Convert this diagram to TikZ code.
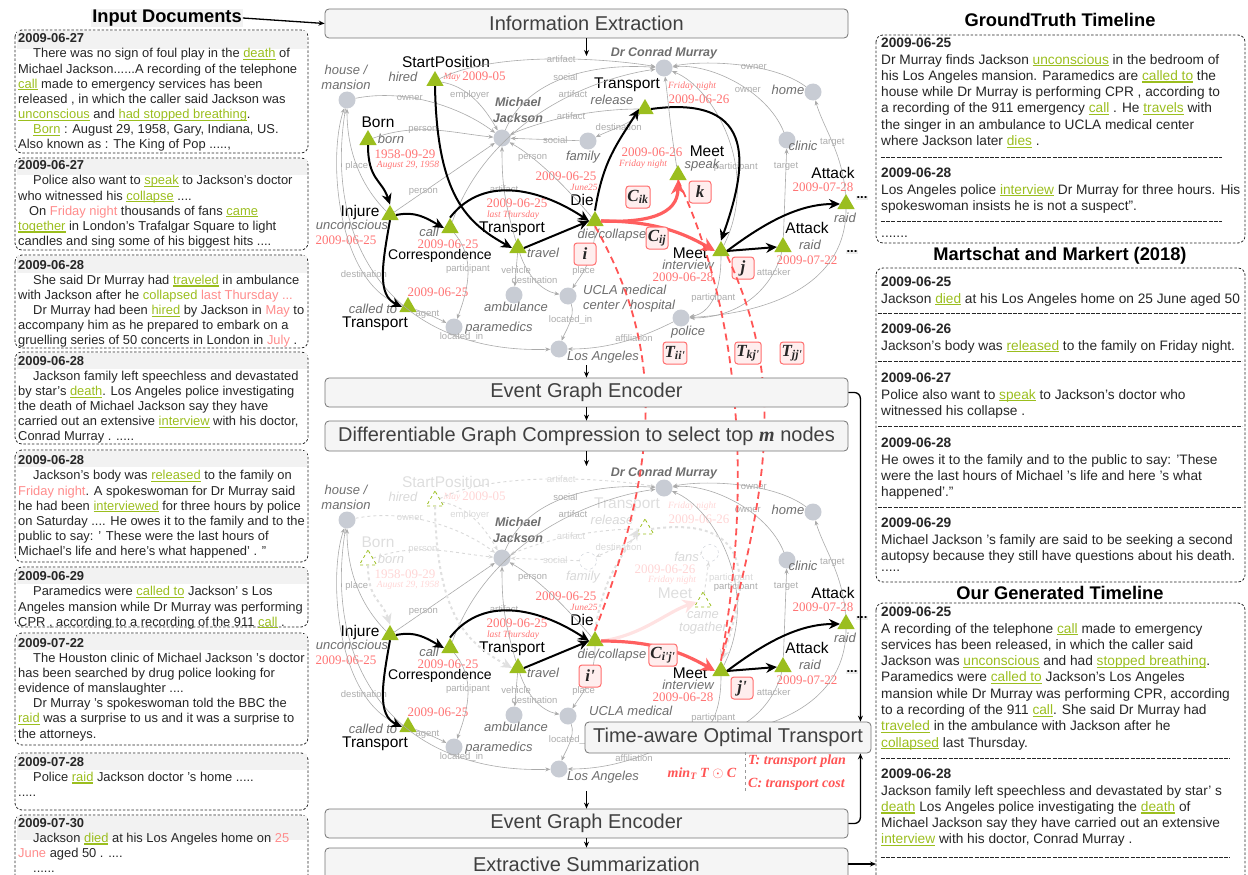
\documentclass[tikz,border=0pt]{standalone}
\usepackage{fontspec}
\setmainfont{Liberation Sans}
\newfontfamily\tms{Liberation Serif}
\usetikzlibrary{shapes.geometric,arrows.meta}
\definecolor{evgreen}{RGB}{155,190,30}
\definecolor{entgray}{RGB}{200,204,212}
\definecolor{tred}{RGB}{255,115,115}
\definecolor{tpink}{RGB}{255,140,140}
\definecolor{labgray}{RGB}{110,110,110}
\definecolor{edgegray}{RGB}{170,170,170}
\definecolor{elgray}{RGB}{172,172,172}
\definecolor{carrred}{RGB}{255,95,95}
\definecolor{redline}{RGB}{255,85,85}
\definecolor{tbfill}{RGB}{255,238,238}
\definecolor{tbdraw}{RGB}{255,110,110}
\newsavebox\evbox
\newif\iftopg
\newcommand\evw[1]{\textcolor{evgreen}{\sbox\evbox{#1}\rlap{\rule[-2.3pt]{\wd\evbox}{1.2pt}}\usebox\evbox}}
\newcommand\tmw[1]{\textcolor{tpink}{#1}}
\newcommand\dind{\hspace*{15pt}}
\tikzset{
 ent/.style={circle, fill=entgray, minimum size=17pt, inner sep=0pt},
 ev/.style={regular polygon, regular polygon sides=3, fill=evgreen, minimum size=20pt, inner sep=0pt},
 ename/.style={font=\fontsize{15.5}{16}\selectfont, text=black, inner sep=0pt},
 elab/.style={font=\fontsize{13}{15}\selectfont\itshape, text=labgray, inner sep=0pt},
 blab/.style={font=\fontsize{12.5}{15.5}\selectfont\bfseries\itshape, text=labgray, inner sep=0pt, align=center},
 dt/.style={font=\tms\fontsize{13}{13}\selectfont, text=tred, inner sep=0pt},
 tdt/.style={font=\tms\itshape\fontsize{9.5}{10}\selectfont, text=tred, inner sep=0pt},
 eg/.style={draw=edgegray, line width=0.6pt, -{Stealth[length=5pt,width=4pt]}},
 el/.style={font=\fontsize{9.5}{10}\selectfont, text=elgray, inner sep=0.5pt},
 big/.style={draw=black, line width=2pt, -{Stealth[length=11pt,width=10pt]}},
 redarr/.style={draw=carrred, line width=3.2pt, -{Stealth[length=14pt,width=14pt]}},
 tb/.style={draw=tbdraw, fill=tbfill, line width=1pt, rounded corners=3pt, font=\tms\bfseries\itshape\fontsize{17}{17}\selectfont, text=black!85, minimum size=22pt, inner sep=1.5pt},
 tline/.style={draw=redline, line width=1.8pt, dash pattern=on 7pt off 4.5pt},
 dots/.style={fill=black!7, font=\fontsize{13}{13}\selectfont\bfseries, inner sep=1pt},
 pbox/.style={draw=black!55, fill=black!4, rounded corners=4pt, line width=0.8pt, font=\fontsize{20}{20}\selectfont, text=black!75, minimum width=523pt, minimum height=29pt, inner sep=0pt},
 sarr/.style={draw=black, line width=1.3pt, -{Stealth[length=6pt,width=5pt]}},
 ttl/.style={font=\fontsize{18.3}{19}\selectfont\bfseries, inner sep=1pt},
 doc/.style={anchor=north west, align=left, inner sep=0pt, font=\fontsize{12.9}{15.15}\selectfont, text=black!85},
 rdoc/.style={anchor=north west, align=left, inner sep=0pt, font=\fontsize{13.7}{16.3}\selectfont, text=black!85},
 docbox/.style={draw=black!85, dash pattern=on 2.5pt off 1.8pt, line width=0.8pt, rounded corners=7pt},
 datebar/.style={fill=black!5, draw=none},
 sepline/.style={draw=black!85, dash pattern=on 4pt off 1.2pt, line width=0.8pt},
 fml/.style={font=\tms\bfseries\itshape\fontsize{14}{14}\selectfont, text=redline, inner sep=0pt},
 topmode/.style={
  rment/.style={ent}, rmev/.style={ev}, rmename/.style={ename}, rmelab/.style={elab},
  rmdt/.style={dt}, rmtdt/.style={tdt}, rmeg/.style={eg}, rmel/.style={el}, rmbig/.style={big}},
 botmode/.style={
  rment/.style={ent, fill=none, draw=entgray, dashed},
  rmev/.style={ev, fill=none, draw=evgreen, dashed, line width=0.8pt},
  rmename/.style={ename, text=black!13}, rmelab/.style={elab, text=black!15},
  rmdt/.style={dt, text=tred!30}, rmtdt/.style={tdt, text=tred!30},
  rmeg/.style={eg, draw=black!15, dashed, line width=0.9pt}, rmel/.style={el, text=black!15},
  rmbig/.style={big, draw=black!12, dashed}},
}
\newcommand{\graphbase}{%
\node[ent] (hm) at (347,100) {};
\node[elab,align=center] (hmL) at (346,77) {house /\\mansion};
\node[ent] (mj) at (502,138) {};
\node[blab] (mjL) at (518,110) {Michael\\Jackson};
\node[rment] (fam) at (588,141) {};
\node[rmelab] (famL) at (583,157) {family};
\node[ent] (dcm) at (664,68) {};
\node[blab] (dcmL) at (664,53) {Dr Conrad Murray};
\node[ent] (home) at (813,92) {};
\node[elab] (homeL) at (788,90) {home};
\node[ent] (clin) at (787,140) {};
\node[elab] (clinL) at (803,146) {clinic};
\node[ent] (amb) at (514,295) {};
\node[elab] (ambL) at (516,307) {ambulance};
\node[ent] (ucla) at (568,296) {};
\iftopg
\node[elab,align=left,anchor=west] (uclaL) at (583,299) {UCLA medical\\center / hospital};
\else
\node[elab,anchor=west] (uclaL) at (589,291) {UCLA medical};
\fi
\node[ent] (para) at (454,327) {};
\node[elab] (paraL) at (499,328) {paramedics};
\node[ent] (la) at (559,349) {};
\node[elab] (laL) at (603,357) {Los Angeles};
\node[ent] (pol) at (681,318) {};
\iftopg \node[elab] (polL) at (688,332) {police}; \fi
\node[rmev] (sp) at (435,81) {};
\node[rmename] (spN) at (446,62) {StartPosition};
\node[rmelab] (spV) at (403,77) {hired};
\node[rmtdt] (spT) at (452,77) {May};
\node[rmdt] (spD) at (484,76) {2009-05};
\node[rmev] (born) at (368,140) {};
\node[rmename] (bornN) at (378,122) {Born};
\node[rmelab] (bornV) at (391,139) {born};
\node[rmdt] (bornD) at (405,154) {1958-09-29};
\node[rmtdt] (bornT) at (408,165) {August 29, 1958};
\node[ev] (inj) at (390,215) {};
\node[ename] (injN) at (360,212) {Injure};
\node[elab] (injV) at (352,225) {unconscious};
\node[dt] (injD) at (346,240) {2009-06-25};
\node[ev] (call) at (450,228) {};
\node[elab] (callV) at (429,231.5) {call};
\node[dt] (callD) at (448,244) {2009-06-25};
\node[ename, font=\fontsize{14}{14}\selectfont] (callN) at (440,256) {Correspondence};
\node[ev] (calt) at (408,307) {};
\node[elab] (caltV) at (373,309) {called to};
\node[ename] (caltN) at (375,324) {Transport};
\node[dt] (caltD) at (438,292) {2009-06-25};
\node[ev] (trv) at (518,248) {};
\node[ename] (trvN) at (512,229) {Transport};
\node[elab] (trvV) at (543,253) {travel};
\node[dt] (trvD) at (517,203) {2009-06-25};
\node[tdt] (trvT) at (513,215.5) {last Thursday};
\node[ev] (die) at (595,221) {};
\node[ename] (dieN) at (582,200) {Die};
\node[elab] (dieV) at (612,235) {die/collapse};
\node[dt] (dieD) at (566,176) {2009-06-25};
\node[tdt] (dieT) at (584,187) {June25};
\node[rmev] (rel) at (645,109) {};
\node[rmename] (relN) at (627,85) {Transport};
\node[rmelab] (relV) at (612,100) {release};
\node[rmtdt] (relT) at (692,86) {Friday night};
\node[rmdt] (relD) at (699,99) {2009-06-26};
\node[ev] (int) at (721,251) {};
\node[ename] (intN) at (690,253) {Meet};
\node[elab] (intV) at (688,265) {interview};
\node[dt] (intD) at (683,277) {2009-06-28};
\node[ev] (att1) at (783,247) {};
\node[ename] (att1N) at (807,228) {Attack};
\node[elab] (att1V) at (810,245) {raid};
\node[dt] (att1D) at (807,260) {2009-07-22};
\node[ev] (att2) at (846,204) {};
\node[ename] (att2N) at (833,173) {Attack};
\node[dt] (att2D) at (823,187) {2009-07-28};
\node[elab] (att2V) at (845,218) {raid};
\node[dots] (d1) at (862,198) {...};
\node[dots] (d2) at (852,252) {...};
% gray edges
\draw[rmeg] (hm) .. controls +(60,-12) and +(-40,-30) .. (mj) node[rmel,pos=.35] (e1) {owner};
\draw[rmeg] (sp) .. controls +(30,5) and +(-20,-35) .. (mj) node[rmel,pos=.45] (e2) {employer};
\draw[rmeg] (born) .. controls +(50,-18) and +(-50,-5) .. (mj) node[rmel,pos=.4] (e3) {person};
\draw[eg] (inj) -- (mj) node[el,pos=.29] (e4) {person};
\draw[eg] (trv) .. controls +(-15,-50) and +(0,40) .. (mj) node[el,pos=.5] (e5) {artifact};
\draw[eg] (die) .. controls +(-30,-35) and +(35,20) .. (mj) node[el,pos=.72] (e6) {person};
\draw[rmeg] (rel) .. controls +(-60,0) and +(35,-15) .. (mj) node[rmel,pos=.45] (e7) {artifact};
\draw[rmeg] (fam) -- (mj) node[rmel,pos=.35] (e8) {social};
\draw[rmeg] (rel) .. controls +(-15,15) and +(20,-10) .. (fam) node[rmel,pos=.5] (e9) {destination};
\draw[rmeg] (sp) .. controls +(60,-30) and +(-60,-10) .. (dcm) node[rmel,pos=.55] (e10) {artifact};
\draw[eg] (mj) .. controls +(25,-60) and +(-70,-5) .. (dcm) node[el,pos=.5] (e11) {social};
\draw[eg] (call) .. controls +(40,-110) and +(-70,10) .. (dcm) node[el,pos=.62] (e12) {artifact};
\draw[eg] (home) .. controls +(-40,-30) and +(40,-8) .. (dcm) node[el,pos=.4] (e13) {owner};
\draw[eg] (clin) .. controls +(-20,-50) and +(45,-5) .. (dcm) node[el,pos=.4] (e14) {owner};
\draw[eg] (int) .. controls +(40,-80) and +(50,20) .. (dcm) node[el,pos=.35] (e16) {participant};
\draw[eg] (att1) -- (clin) node[el,pos=.8] (e17) {target};
\draw[eg] (att2) .. controls +(-3,-50) and +(10,35) .. (home) node[el,pos=.5] (e18) {target};
\draw[eg] (att1) .. controls +(-10,40) and +(60,0) .. (pol) node[el,pos=.2] (e19) {attacker};
\draw[eg] (att2) .. controls +(0,80) and +(90,-5) .. (pol);
\draw[eg] (int) .. controls +(0,40) and +(30,-5) .. (pol) node[el,pos=.5] (e21) {participant};
\draw[eg] (pol) .. controls +(-40,20) and +(50,0) .. (la) node[el,pos=.4] (e22) {affiliation};
\draw[eg] (ucla) .. controls +(8,20) and +(5,-15) .. (la) node[el,pos=.4] (e23) {located\_in};
\draw[eg] (hm) .. controls +(-25,150) and +(-160,5) .. (la) node[el,pos=.78] (e24) {located\_in};
\draw[eg] (die) .. controls +(0,40) and +(12,-20) .. (ucla) node[el,pos=.6] (e25) {place};
\draw[eg] (trv) -- (amb) node[el,pos=.5] (e26) {vehicle};
\draw[eg] (trv) .. controls +(10,30) and +(-25,-5) .. (ucla) node[el,pos=.45] (e27) {destination};
\draw[eg] (call) .. controls +(25,30) and +(15,-40) .. (para) node[el,pos=.45] (e28) {participant};
\draw[eg] (calt) .. controls +(15,5) and +(-15,-8) .. (para) node[el,pos=.4] (e29) {agent};
\draw[eg] (inj) .. controls +(-30,-30) and +(0,50) .. (hm) node[el,pos=.5] (e30) {place};
\draw[eg] (calt) .. controls +(-70,-20) and +(-20,60) .. (hm) node[el,pos=.25] (e31) {destination};
% event arrows
\draw[rmbig] (born.south) .. controls +(0,35) and +(-8,-25) .. (inj.north);
\draw[rmbig] (sp.south) .. controls +(2,110) and +(-45,-25) .. (trv.west);
\draw[big] (inj.east) .. controls +(20,-4) and +(-18,-10) .. (call.west);
\draw[big] (inj.south) .. controls +(-8,45) and +(-25,-12) .. (calt.west);
\draw[big] (call.north) .. controls +(35,-45) and +(-45,-30) .. (die.west);
\draw[big] (trv.east) -- (die.west);
\draw[rmbig] (die.north) .. controls +(8,-50) and +(-22,35) .. (rel.west);
\draw[rmbig] (rel.east) .. controls +(110,-15) and +(25,-70) .. (int.north);
\draw[big] (int.east) -- (att1.west);
\draw[big] (int.east) .. controls +(40,-30) and +(-40,0) .. (att2.west);
}
\begin{document}
\begin{tikzpicture}[x=1pt,y=-1pt]
\useasboundingbox (0,0) rectangle (1248,875);
% ---------- left column ----------
\node[ttl, fill=black!5] (idT) at (167,18) {Input Documents};
\draw[docbox] (15,30) rectangle (308,153);
\draw[docbox] (15,158) rectangle (308,250);
\draw[docbox] (15,255) rectangle (308,348);
\draw[docbox] (15,352) rectangle (308,444);
\draw[docbox] (15,450) rectangle (308,562);
\draw[docbox] (15,567) rectangle (308,627);
\draw[docbox] (15,633) rectangle (308,745);
\draw[docbox] (15,753) rectangle (308,810);
\draw[docbox] (15,815) rectangle (308,895);
\fill[datebar] (17,31) rectangle (307,49);
\fill[datebar] (17,159) rectangle (307,175);
\fill[datebar] (17,256) rectangle (307,273);
\fill[datebar] (17,353) rectangle (307,369);
\fill[datebar] (17,451) rectangle (307,467);
\fill[datebar] (17,568) rectangle (307,584);
\fill[datebar] (17,634) rectangle (307,650);
\fill[datebar] (17,754) rectangle (307,770);
\fill[datebar] (17,816) rectangle (307,840);
\node[doc] (doc1) at (18,33.5) {\textbf{2009-06-27}\\
\dind There was no sign of foul play in the \evw{death} of\\
Michael Jackson......A recording of the telephone\\
\evw{call} made to emergency services has been\\
released , in which the caller said Jackson was\\
\evw{unconscious} and \evw{had stopped breathing}.\\
\dind\evw{Born} : August 29, 1958, Gary, Indiana, US.\\
Also known as : The King of Pop .....,};
\node[doc] (doc2) at (18,160.5) {\textbf{2009-06-27}\\
\dind Police also want to \evw{speak} to Jackson's doctor\\
who witnessed his \evw{collapse} ....\\
\hspace*{11pt}On \tmw{Friday night} thousands of fans \evw{came}\\
\evw{together} in London's Trafalgar Square to light\\
candles and sing some of his biggest hits ....};
\node[doc] (doc3) at (18,260) {\textbf{2009-06-28}\\
\dind She said Dr Murray had \evw{traveled} in ambulance\\
with Jackson after he \textcolor{evgreen}{collapsed} \tmw{last Thursday ...}\\
\dind Dr Murray had been \evw{hired} by Jackson in \tmw{May} to\\
accompany him as he prepared to embark on a\\
gruelling series of 50 concerts in London in \tmw{July} .};
\node[doc] (doc4) at (18,356) {\textbf{2009-06-28}\\
\dind Jackson family left speechless and devastated\\
by star's \evw{death}. Los Angeles police investigating\\
the death of Michael Jackson say they have\\
carried out an extensive \evw{interview} with his doctor,\\
Conrad Murray . .....};
\node[doc] (doc5) at (18,455.5) {\textbf{2009-06-28}\\
\dind Jackson's body was \evw{released} to the family on\\
\tmw{Friday night}. A spokeswoman for Dr Murray said\\
he had been \evw{interviewed} for three hours by police\\
on Saturday .... He owes it to the family and to the\\
public to say: ' These were the last hours of\\
Michael's life and here's what happened' . "};
\node[doc] (doc6) at (18,571.5) {\textbf{2009-06-29}\\
\dind Paramedics were \evw{called to} Jackson' s Los\\
Angeles mansion while Dr Murray was performing\\
CPR , according to a recording of the 911 \evw{call} .};
\node[doc] (doc7) at (18,638) {\textbf{2009-07-22}\\
\dind The Houston clinic of Michael Jackson 's doctor\\
has been searched by drug police looking for\\
evidence of manslaughter ....\\
\dind Dr Murray 's spokeswoman told the BBC the\\
\evw{raid} was a surprise to us and it was a surprise to\\
the attorneys.};
\node[doc] (doc8) at (18,757) {\textbf{2009-07-28}\\
\dind Police \evw{raid} Jackson doctor 's home .....\\
.....};
\node[doc] (doc9) at (18,818) {\textbf{2009-07-30}\\
\dind Jackson \evw{died} at his Los Angeles home on \tmw{25}\\
\tmw{June} aged 50 . ....\\
\dind ......};
% ---------- graphs ----------
\topgtrue
\begin{scope}[name prefix=t-, topmode]
\graphbase
\node[ev] (spk) at (678,175) {};
\node[ename] (spkN) at (707,151) {Meet};
\node[elab] (spkV) at (702,165) {speak};
\node[dt] (spkD) at (652,152) {2009-06-26};
\node[tdt] (spkT) at (643,164) {Friday night};
\draw[eg] (spk) .. controls +(-8,-50) and +(5,40) .. (dcm);
\draw[redarr] (die.east) .. controls +(45,2) and +(0,35) .. (spk.south);
\draw[redarr] (die.east) .. controls +(50,0) and +(-35,-20) .. (int.west);
\node[tb] (ti) at (585,254) {i};
\node[tb] (tcik) at (638,197) {C\textsubscript{ik}};
\node[tb] (tk) at (700,192) {k};
\node[tb] (tcij) at (657,238) {C\textsubscript{ij}};
\node[tb] (tj) at (743,268) {j};
\end{scope}
\topgfalse
\begin{scope}[shift={(0,420)}, name prefix=b-, botmode]
\graphbase
\node[rmev] (ct) at (703,182) {};
\node[rmename] (ctN) at (675,173) {Meet};
\node[rmelab] (ctV) at (703,195) {came};
\node[rmelab] (ctV2) at (703,208) {togather};
\node[rment] (fans) at (710,133) {};
\node[rmelab] (fansL) at (688,137) {fans'};
\node[rmdt] (ctD) at (665,149) {2009-06-26};
\node[rmtdt] (ctT) at (672,160) {Friday night};
\draw[rmeg] (ct) -- (fans);
\node[rmel] (ctE) at (731,158) {participant};
\draw[redarr, draw=carrred!18] (die.east) .. controls +(40,-5) and +(-30,10) .. (ct.west);
\draw[redarr] (die.east) .. controls +(50,0) and +(-35,-20) .. (int.west);
\node[tb] (tcij2) at (663,235) {C\textsubscript{i'j'}};
\node[tb] (ti2) at (590,256) {i'};
\node[tb] (tj2) at (742,268) {j'};
\end{scope}
% transport lines
\draw[tline] (t-die.south) .. controls (665,350) and (660,460) .. (b-die.north);
\draw[tline] (t-spk.south) .. controls (725,280) and (760,440) .. (b-int.north);
\draw[tline] (t-int.-40) .. controls (785,380) and (770,480) .. (b-int.north);
\node[tb] (tii) at (675,353) {T\textsubscript{ii'}};
\node[tb] (tkj) at (748,353) {T\textsubscript{kj'}};
\node[tb] (tjj) at (792,353) {T\textsubscript{jj'}};
% ---------- process boxes ----------
\node[pbox] (ie) at (586.5,23.5) {Information Extraction};
\node[pbox] (ege1) at (586.5,392.5) {Event Graph Encoder};
\node[pbox, minimum height=30pt] (dgc) at (586.5,436) {Differentiable Graph Compression to select top {\tms\bfseries\itshape m} nodes};
\node[pbox] (ege2) at (586.5,823.5) {Event Graph Encoder};
\node[pbox, minimum height=32pt] (es) at (586.5,864) {Extractive Summarization};
\node[pbox, minimum width=286pt, minimum height=31pt] (tot) at (728,737.5) {Time-aware Optimal Transport};
\coordinate (g1top) at (586.5,56);
\coordinate (g1bot) at (586.5,365);
\coordinate (g2top) at (586.5,466);
\coordinate (g2bot) at (586.5,791);
\coordinate (esout) at (876,864);
\draw[sarr] (idT.east) -- (ie.west);
\draw[sarr] (ie.south) -- (g1top);
\draw[sarr] (g1bot) -- (ege1.north);
\draw[sarr] (ege1.south) -- (dgc.north);
\draw[sarr] (dgc.south) -- (g2top);
\draw[sarr] (g2bot) -- (ege2.north);
\draw[sarr] (ege2.south) -- (es.north);
\draw[sarr, rounded corners=6pt] (ege1.east) -| ([xshift=-11pt]tot.north east);
\draw[sarr, rounded corners=6pt] (ege2.east) -| ([xshift=-11pt]tot.south east);
\draw[sarr] (es.east) -- (esout);
\node[fml] (fmin) at (702,774) {min\textsubscript{T} T $\odot$ C};
\node[fml, anchor=west] (fT) at (748,761) {T: transport plan};
\node[fml, anchor=west] (fC) at (748,784) {C: transport cost};
\draw[black!40, dashed, line width=0.6pt] (745,752) -- (745,793);
% ---------- right column ----------
\node[ttl] (gtT) at (1060,20) {GroundTruth Timeline};
\node[ttl] (mmT) at (1060,256) {Martschat and Markert (2018)};
\node[ttl] (ogT) at (1060,593) {Our Generated Timeline};
\draw[docbox] (876,35) rectangle (1245,243);
\draw[docbox] (876,268) rectangle (1245,582);
\draw[docbox] (876,603) rectangle (1245,895);
\node[rdoc] (gt1) at (881,38) {\textbf{2009-06-25}\\
Dr Murray finds Jackson \evw{unconscious} in the bedroom of\\
his Los Angeles mansion. Paramedics are \evw{called to} the\\
house while Dr Murray is performing CPR , according to\\
a recording of the 911 emergency \evw{call} . He \evw{travels} with\\
the singer in an ambulance to UCLA medical center\\
where Jackson later \evw{dies} .};
\draw[sepline] (881,157) -- (1222,157);
\node[rdoc] (gt2) at (881,168) {\textbf{2009-06-28}\\
Los Angeles police \evw{interview} Dr Murray for three hours. His\\
spokeswoman insists he is not a suspect".};
\draw[sepline] (881,221) -- (1222,221);
\node[rdoc, anchor=west] (gt3) at (881,237) {.......};
\node[rdoc] (mm1) at (881,277) {\textbf{2009-06-25}\\
Jackson \evw{died} at his Los Angeles home on 25 June aged 50};
\draw[sepline] (878,313) -- (1242,313);
\node[rdoc] (mm2) at (881,324) {\textbf{2009-06-26}\\
Jackson's body was \evw{released} to the family on Friday night.};
\draw[sepline] (878,361) -- (1242,361);
\node[rdoc] (mm3) at (881,373) {\textbf{2009-06-27}\\
Police also want to \evw{speak} to Jackson's doctor who\\
witnessed his collapse .};
\draw[sepline] (878,426) -- (1242,426);
\node[rdoc] (mm4) at (881,438) {\textbf{2009-06-28}\\
He owes it to the family and to the public to say: 'These\\
were the last hours of Michael 's life and here 's what\\
happened'."};
\draw[sepline] (878,507) -- (1242,507);
\node[rdoc] (mm5) at (881,518) {\textbf{2009-06-29}\\
Michael Jackson 's family are said to be seeking a second\\
autopsy because they still have questions about his death.};
\node[rdoc, anchor=west] (mm6) at (881,571) {.....};
\node[rdoc] (og1) at (881,607) {\textbf{2009-06-25}\\
A recording of the telephone \evw{call} made to emergency\\
services has been released, in which the caller said\\
Jackson was \evw{unconscious} and had \evw{stopped breathing}.\\
Paramedics were \evw{called to} Jackson's Los Angeles\\
mansion while Dr Murray was performing CPR, according\\
to a recording of the 911 \evw{call}. She said Dr Murray had\\
\evw{traveled} in the ambulance with Jackson after he\\
\evw{collapsed} last Thursday.};
\draw[sepline] (881,758) -- (1230,758);
\node[rdoc] (og2) at (881,769) {\textbf{2009-06-28}\\
Jackson family left speechless and devastated by star' s\\
\evw{death} Los Angeles police investigating the \evw{death} of\\
Michael Jackson say they have carried out an extensive\\
\evw{interview} with his doctor, Conrad Murray .};
\draw[sepline] (881,857) -- (1230,857);
\end{tikzpicture}
\end{document}
